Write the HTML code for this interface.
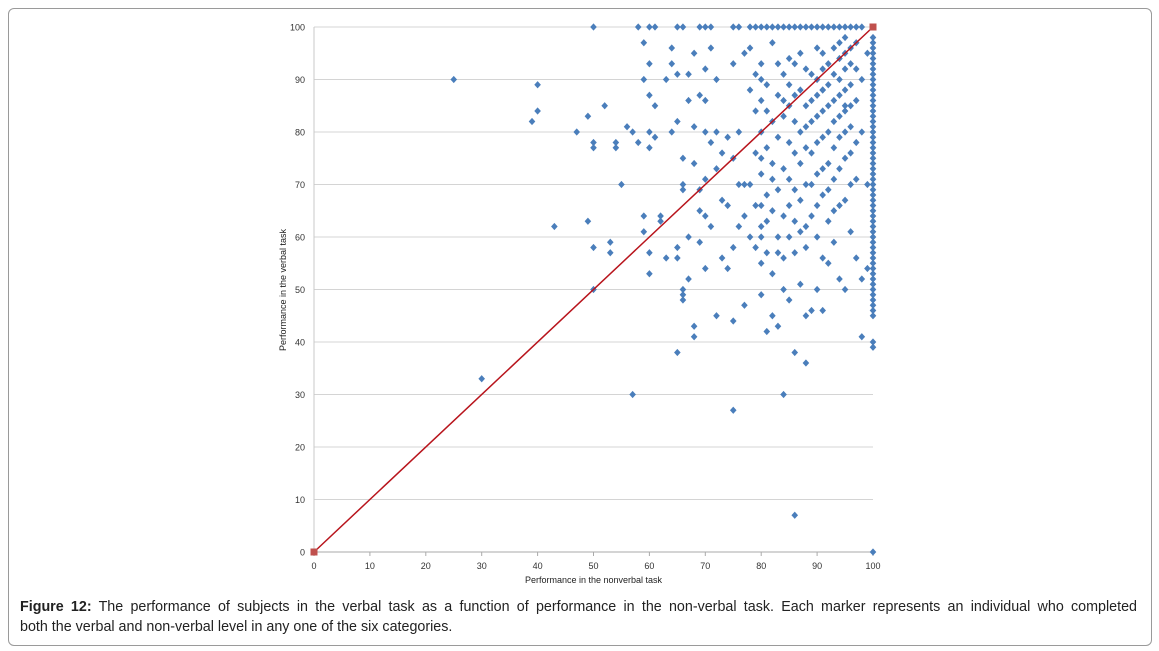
<!DOCTYPE html>
<html><head><meta charset="utf-8"><style>
body{margin:0;background:#fff;font-family:"Liberation Sans",sans-serif}
#frame{position:absolute;left:8px;top:8px;width:1142px;height:636px;border:1px solid #9a9a9a;border-radius:6px}
#cap{position:absolute;left:20px;top:597px;width:1117px;font-size:14.3px;line-height:20px;color:#222}
#cap .l1{text-align:justify;text-align-last:justify;white-space:nowrap}
svg{position:absolute;left:0;top:0}
</style></head><body>
<div id="frame"></div>
<svg id="chart" width="1159" height="600"></svg>
<div id="cap"><div class="l1" style="white-space:normal"><b>Figure 12:</b> The performance of subjects in the verbal task as a function of performance in the non-verbal task. Each marker represents an individual who completed</div><div>both the verbal and non-verbal level in any one of the six categories.</div></div>
<script>
const xTicks=[0,10,20,30,40,50,60,70,80,90,100];
const yTicks=[0,10,20,30,40,50,60,70,80,90,100];
const topRowX=[50,58,60,61,65,66,69,70,71,75,76,78,79,80,81,82,83,84,85,86,87,88,89,90,91,92,93,94,95,96,97,98];
const col100Y=[0,39,40,45,46,47,48,49,50,51,52,53,54,55,56,57,58,59,60,61,62,63,64,65,66,67,68,69,70,71,72,73,74,75,76,77,78,79,80,81,82,83,84,85,86,87,88,89,90,91,92,93,94,95,96,97,98];
const scatterX=[25,30,39,40,40,43,47,49,49,50,50,50,50,52,53,53,54,54,55,56,57,57,58,59,59,59,59,60,60,60,60,60,60,61,61,62,62,63,63,64,64,64,65,65,65,65,65,66,66,66,66,66,66,67,67,67,67,68,68,68,68,68,69,69,69,69,70,70,70,70,70,70,71,71,71,72,72,72,72,73,73,73,74,74,74,75,75,75,75,75,76,76,76,77,77,77,77,78,78,78,78,79,79,79,79,79,80,80,80,80,80,80,80,80,80,80,81,81,81,81,81,81,81,82,82,82,82,82,82,82,83,83,83,83,83,83,84,84,84,84,84,84,84,85,85,85,85,85,85,85,85,86,86,86,86,86,86,86,86,87,87,87,87,87,87,87,88,88,88,88,88,88,88,88,89,89,89,89,89,89,89,90,90,90,90,90,90,90,90,90,91,91,91,91,91,91,91,91,91,92,92,92,92,92,92,92,92,93,93,93,93,93,93,93,93,94,94,94,94,94,94,94,94,94,95,95,95,95,95,95,95,95,95,96,96,96,96,96,96,96,96,97,97,97,97,97,97,98,98,98,98,99,99,86,88,91,84,80,83,95,99,75,77,72,70,82,90];
const scatterY=[90,33,82,84,89,62,80,83,63,78,77,58,50,85,59,57,78,77,70,81,80,30,78,97,90,64,61,93,87,80,77,57,53,85,79,64,63,90,56,93,96,80,82,91,58,56,38,50,49,48,75,70,69,52,86,91,60,43,41,95,81,74,87,69,65,59,92,86,80,71,64,54,96,78,62,90,80,73,45,76,67,56,79,66,54,75,93,58,44,27,80,70,62,95,70,64,47,96,88,70,60,91,84,76,66,58,93,90,86,80,75,72,66,62,55,49,89,84,77,68,63,57,42,97,82,74,71,65,53,45,93,87,79,69,60,43,91,86,83,73,64,56,50,94,89,85,78,71,66,60,48,93,87,82,76,69,63,57,38,95,88,80,74,67,61,51,92,85,81,77,70,62,58,36,91,86,82,76,70,64,46,96,90,87,83,78,72,66,60,50,95,92,88,84,79,73,68,56,46,93,89,85,80,74,69,63,55,96,91,86,82,77,71,65,59,97,94,90,87,83,79,73,66,52,98,95,92,88,84,80,75,67,50,96,93,89,85,81,76,70,61,97,92,86,78,71,56,90,80,52,41,70,54,7,45,88,30,60,57,85,95];
const S=document.getElementById('chart');const NS='http://www.w3.org/2000/svg';
const X0=314,X1=873,Y0=552,Y1=27;
const sx=v=>X0+(X1-X0)*v/100, sy=v=>Y0-(Y0-Y1)*v/100;
function mk(t,a){const e=document.createElementNS(NS,t);for(const k in a)e.setAttribute(k,a[k]);S.appendChild(e);return e;}
yTicks.forEach(v=>{
 const g=mk('line',{x1:X0,x2:X1,y1:sy(v),y2:sy(v),stroke:v===0?'#aaa':'#d4d4d4','stroke-width':1});
 
 
 const t=mk('text',{x:305,y:sy(v)+3.5,'font-size':9,'text-anchor':'end',fill:'#333'});t.textContent=v;
 
 
});
const ax=mk('line',{x1:X0,x2:X0,y1:Y1,y2:Y0,stroke:'#c8c8c8'});


xTicks.forEach(v=>{
 const k=mk('line',{x1:sx(v),x2:sx(v),y1:Y0,y2:Y0+4,stroke:'#aaa'});
 
 
 const t=mk('text',{x:sx(v),y:Y0+17,'font-size':9,'text-anchor':'middle',fill:'#333'});t.textContent=v;
 
 
});
const xt=mk('text',{x:(X0+X1)/2,y:583,'font-size':9,'text-anchor':'middle',fill:'#222'});xt.textContent='Performance in the nonverbal task';


const yt=mk('text',{x:0,y:0,'font-size':9,'text-anchor':'middle',fill:'#222',transform:'translate(286,290) rotate(-90)'});yt.textContent='Performance in the verbal task';


function dot(x,y){const cx=sx(x),cy=sy(y);
 const p=mk('path',{d:`M${cx} ${cy-3.6}L${cx+3.3} ${cy}L${cx} ${cy+3.6}L${cx-3.3} ${cy}Z`,fill:'#4a7ebb'});
 
 }
topRowX.forEach(x=>dot(x,100));
col100Y.forEach(y=>dot(100,y));
scatterX.forEach((x,i)=>dot(x,scatterY[i]));
const dl=mk('line',{x1:sx(0),y1:sy(0),x2:sx(100),y2:sy(100),stroke:'#b8141c','stroke-width':1.5});


[[0,0],[100,100]].forEach(p=>{const r=mk('rect',{x:sx(p[0])-3.5,y:sy(p[1])-3.5,width:7,height:7,fill:'#c0504d'});
 
 });
</script>
</body></html>
